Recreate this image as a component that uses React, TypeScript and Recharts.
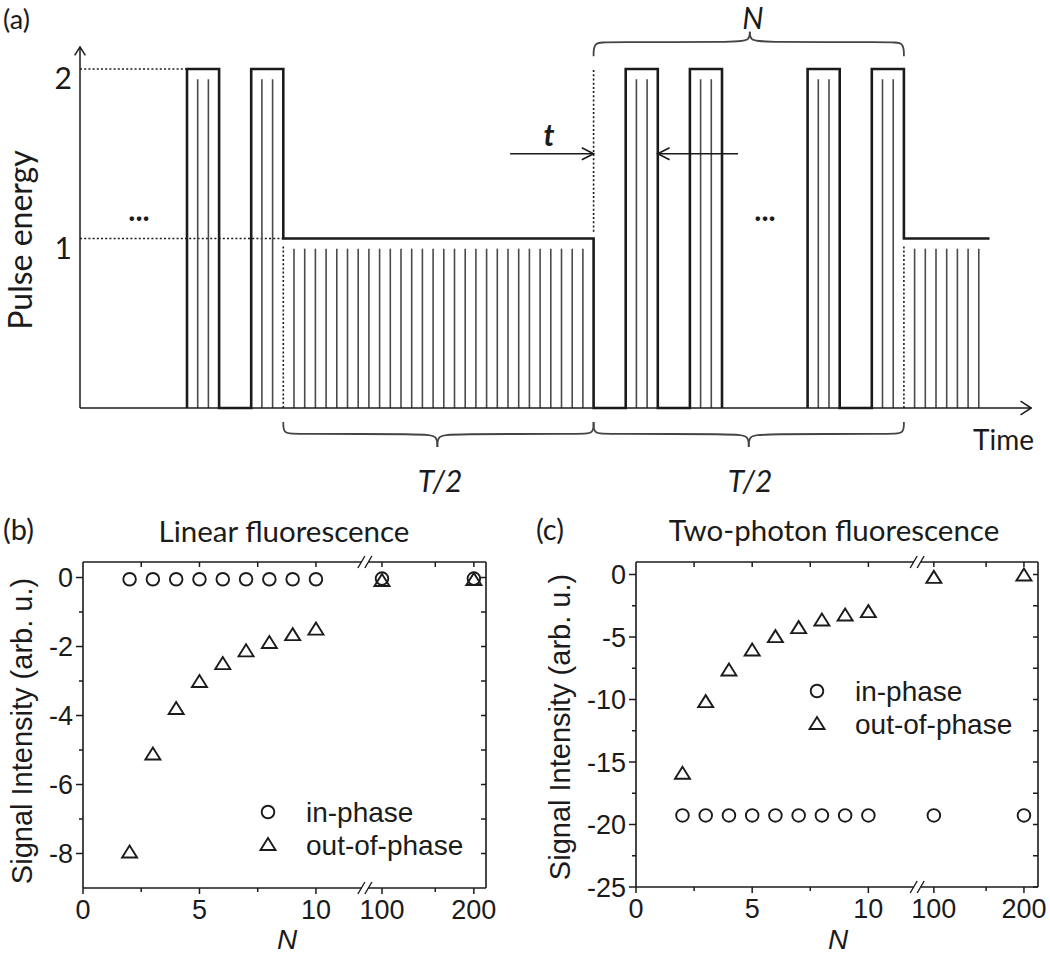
import React from 'react';
import {
  ComposedChart,
  Line,
  ReferenceLine,
  Scatter,
  ScatterChart,
  XAxis,
  YAxis,
} from 'recharts';

const INK = '#1b1b1b';
const PULSE = '#4a4a4a';
const LABEL_FONT = 'Lato, "Open Sans", sans-serif';
const PLOT_FONT = '"Liberation Sans", Arial, sans-serif';

// ---------- (a) pulse train, time in units of one pulse period ----------
const envelopeHeadT = [10, 10, 13, 13, 16, 16, 19, 19, 48, 48, 51, 51, 54, 54, 57, 57, 60, 60];
const envelopeHeadE = [0, 2, 2, 0, 0, 2, 2, 1, 1, 0, 0, 2, 2, 0, 0, 2, 2, 0];
const envelopeTailT = [68, 68, 71, 71, 74, 74, 77, 77, 85];
const envelopeTailE = [0, 2, 2, 0, 0, 2, 2, 1, 1];

const highPulseT = [11, 12, 17, 18, 52, 53, 58, 59, 69, 70, 75, 76];
const HIGH_PULSE_TOP = 1.94;
const lowPulseT = [
  20, 21, 22, 23, 24, 25, 26, 27, 28, 29, 30, 31, 32, 33, 34, 35, 36, 37, 38, 39, 40, 41, 42, 43,
  44, 45, 46, 47, 78, 79, 80, 81, 82, 83, 84,
];
const LOW_PULSE_TOP = 0.94;

// dotted guides: [t0, e0, t1, e1]
const guides = [
  [0, 2, 10, 2],
  [0, 1, 19, 1],
  [19, 0, 19, 0.96],
  [48, 1.04, 48, 2],
  [77, 0, 77, 0.96],
];

const yAxisT = [0, 0];
const yAxisE = [0, 2.13];
const yArrowT = [-0.5, 0, 0.5];
const yArrowE = [2.08, 2.13, 2.08];
const xAxisT = [0, 88.9];
const xAxisE = [0, 0];
const xArrowT = [87.9, 88.9, 87.9];
const xArrowE = [0.04, 0, -0.04];

const tInT = [40.2, 48];
const tInE = [1.5, 1.5];
const tInHeadT = [46.9, 48, 46.9];
const tOutT = [61.5, 54];
const tOutE = [1.5, 1.5];
const tOutHeadT = [55.1, 54, 55.1];
const headE = [1.535, 1.5, 1.465];

const braceTopE = [2.075, 2.158, 2.158, 2.158, 2.17, 2.22];
const braceBotE = [-0.083, -0.153, -0.153, -0.153, -0.165, -0.23];
const braceNLeftT = [48, 48, 49.2, 61.4, 62.6, 62.6];
const braceNRightT = [77, 77, 75.8, 63.8, 62.6, 62.6];
const braceHalf1LeftT = [19, 19, 20.2, 32.2, 33.4, 33.4];
const braceHalf1RightT = [48, 48, 46.8, 34.6, 33.4, 33.4];
const braceHalf2LeftT = [48, 48, 49.2, 61.3, 62.5, 62.5];
const braceHalf2RightT = [77, 77, 75.8, 63.7, 62.5, 62.5];

const energyTicks = [1, 2];

// ---------- (b), (c) fluorescence ----------
const nFew = [2, 3, 4, 5, 6, 7, 8, 9, 10];
const nMany = [100, 200];

const linInFew = [-0.05, -0.05, -0.05, -0.05, -0.05, -0.05, -0.05, -0.05, -0.05];
const linInMany = [-0.03, -0.03];
const linOutFew = [-7.97, -5.13, -3.81, -3.03, -2.51, -2.14, -1.9, -1.67, -1.51];
const linOutMany = [-0.1, -0.07];

const tpInFew = [-19.27, -19.27, -19.27, -19.27, -19.27, -19.27, -19.27, -19.27, -19.27];
const tpInMany = [-19.27, -19.27];
const tpOutFew = [-15.94, -10.21, -7.68, -6.08, -5.01, -4.29, -3.68, -3.28, -3.01];
const tpOutMany = [-0.27, -0.08];

const fewLabels = [0, 5, 10];
const fewMinor = [2.5, 7.5];
const manyLabels = [100, 200];
const manyMinor = [158];
const AXIS_BREAK = 12.1;

const linYMajor = [-8, -6, -4, -2, 0];
const linYMinor = [-7, -5, -3, -1];
const tpYMajor = [-25, -20, -15, -10, -5, 0];
const tpYMinor = [-22.5, -17.5, -12.5, -7.5, -2.5];

const zip = (ts: number[], es: number[]) => ts.map((t, i) => ({ t, e: es[i] }));
const pts = (ns: number[], vs: number[]) => ns.map((n, i) => ({ n, v: vs[i] }));

const EnergyTick = ({ x, y, payload }: any) => (
  <text x={x + 2.7} y={y + 20} textAnchor="end" fontFamily={LABEL_FONT} fontSize={30} fill={INK}>
    {payload.value}
  </text>
);

const strokeLine = (
  key: string,
  data: { t: number; e: number }[],
  width: number,
  color = INK,
  type: any = 'linear'
) => (
  <Line
    key={key}
    data={data}
    dataKey="e"
    type={type}
    stroke={color}
    strokeWidth={width}
    dot={false}
    activeDot={false}
    isAnimationActive={false}
  />
);

const PulsePanel = () => (
  <ComposedChart width={1050} height={500} margin={{ top: 1.2, right: 17.7, bottom: 7.25, left: 0 }}>
    <XAxis type="number" dataKey="t" domain={[-1, 89]} allowDataOverflow hide />
    <YAxis
      type="number"
      domain={[-0.5, 2.4]}
      allowDataOverflow
      ticks={energyTicks}
      interval={0}
      width={69.3}
      axisLine={false}
      tickLine={false}
      tickSize={0}
      tickMargin={0}
      tick={EnergyTick}
    />
    {guides.map(([t0, e0, t1, e1], i) => (
      <ReferenceLine
        key={`g${i}`}
        segment={[{ x: t0, y: e0 }, { x: t1, y: e1 }]}
        stroke={INK}
        strokeWidth={1.6}
        strokeDasharray="2 2.2"
        ifOverflow="visible"
      />
    ))}
    {lowPulseT.map((t) => (
      <ReferenceLine
        key={`l${t}`}
        segment={[{ x: t, y: 0 }, { x: t, y: LOW_PULSE_TOP }]}
        stroke={PULSE}
        strokeWidth={1.6}
        ifOverflow="visible"
      />
    ))}
    {highPulseT.map((t) => (
      <ReferenceLine
        key={`h${t}`}
        segment={[{ x: t, y: 0 }, { x: t, y: HIGH_PULSE_TOP }]}
        stroke={PULSE}
        strokeWidth={1.6}
        ifOverflow="visible"
      />
    ))}
    {strokeLine('ya', zip(yAxisT, yAxisE), 1.5)}
    {strokeLine('yh', zip(yArrowT, yArrowE), 1.5)}
    {strokeLine('xa', zip(xAxisT, xAxisE), 1.5)}
    {strokeLine('xh', zip(xArrowT, xArrowE), 1.5)}
    {strokeLine('eh', zip(envelopeHeadT, envelopeHeadE), 2.6)}
    {strokeLine('et', zip(envelopeTailT, envelopeTailE), 2.6)}
    {strokeLine('ti', zip(tInT, tInE), 1.6)}
    {strokeLine('tih', zip(tInHeadT, headE), 1.6)}
    {strokeLine('to', zip(tOutT, tOutE), 1.6)}
    {strokeLine('toh', zip(tOutHeadT, headE), 1.6)}
    {strokeLine('bn1', zip(braceNLeftT, braceTopE), 1.8, '#444', 'basis')}
    {strokeLine('bn2', zip(braceNRightT, braceTopE), 1.8, '#444', 'basis')}
    {strokeLine('b11', zip(braceHalf1LeftT, braceBotE), 1.8, '#444', 'basis')}
    {strokeLine('b12', zip(braceHalf1RightT, braceBotE), 1.8, '#444', 'basis')}
    {strokeLine('b21', zip(braceHalf2LeftT, braceBotE), 1.8, '#444', 'basis')}
    {strokeLine('b22', zip(braceHalf2RightT, braceBotE), 1.8, '#444', 'basis')}
  </ComposedChart>
);

const Circle = ({ cx, cy }: any) => (
  <circle cx={cx} cy={cy} r={6.3} fill="none" stroke={INK} strokeWidth={1.9} />
);
const Triangle = ({ cx, cy }: any) => (
  <polygon
    points={`${cx},${cy - 7} ${cx - 7.5},${cy + 5} ${cx + 7.5},${cy + 5}`}
    fill="none"
    stroke={INK}
    strokeWidth={1.9}
    strokeLinejoin="miter"
  />
);

const BreakMark = ({ x, y }: { x: number; y: number }) => (
  <g>
    <rect x={x - 3.5} y={y - 2} width={7} height={4} fill="#fff" />
    <line x1={x - 7} y1={y + 6} x2={x} y2={y - 6} stroke={INK} strokeWidth={1.4} />
    <line x1={x} y1={y + 6} x2={x + 7} y2={y - 6} stroke={INK} strokeWidth={1.4} />
  </g>
);

// axes are 1px thick boxes so that recharts draws them; `shift` puts the
// stacked second axis back onto the frame line
const bottomTick = (labels: number[], shift = 0) => (props: any) => {
  const { x, payload } = props;
  const y = props.y + shift;
  const v = payload.value;
  if (v === AXIS_BREAK) return <BreakMark x={x} y={y} />;
  const major = labels.includes(v);
  return (
    <g>
      <line x1={x} x2={x} y1={y} y2={y + (major ? 6 : 4)} stroke={INK} strokeWidth={1.5} />
      {major && (
        <text x={x} y={y + 31} textAnchor="middle" fontFamily={PLOT_FONT} fontSize={27} fill={INK}>
          {v}
        </text>
      )}
    </g>
  );
};

const topTick = (shift = 0) => (props: any) => {
  const { x, payload } = props;
  const y = props.y + shift;
  if (payload.value === AXIS_BREAK) return <BreakMark x={x} y={y} />;
  return <line x1={x} x2={x} y1={y} y2={y + 5} stroke={INK} strokeWidth={1.5} />;
};

const leftTick = (labels: number[]) => (props: any) => {
  const { x, y, payload } = props;
  const v = payload.value;
  const major = labels.includes(v);
  return (
    <g>
      <line x1={x - (major ? 7 : 4)} x2={x} y1={y} y2={y} stroke={INK} strokeWidth={1.5} />
      {major && (
        <text x={x - 10} y={y + 9.6} textAnchor="end" fontFamily={PLOT_FONT} fontSize={27} fill={INK}>
          {v}
        </text>
      )}
    </g>
  );
};

const rightTick = (props: any) => {
  const { x, y } = props;
  return <line x1={x - 5} x2={x} y1={y} y2={y} stroke={INK} strokeWidth={1.5} />;
};

const FEW_DOMAIN = [0, 17.3];
const frameLine = { stroke: INK, strokeWidth: 1.6 };

const FluorPanel = ({
  margin,
  yDomain,
  yMajor,
  yMinor,
  manyDomain,
  inFew,
  inMany,
  outFew,
  outMany,
}: any) => {
  const yTicks = [...yMajor, ...yMinor];
  const shared = {
    type: 'number' as const,
    dataKey: 'n',
    allowDataOverflow: true,
    interval: 0 as const,
    height: 1,
    tickSize: 0,
    tickMargin: 0,
  };
  const sharedY = {
    type: 'number' as const,
    dataKey: 'v',
    domain: yDomain,
    allowDataOverflow: true,
    ticks: yTicks,
    interval: 0 as const,
    width: 1,
    tickSize: 0,
    tickMargin: 0,
  };
  return (
    <ScatterChart width={525} height={456} margin={margin}>
      <XAxis
        {...shared}
        xAxisId="few"
        domain={FEW_DOMAIN}
        ticks={[...fewLabels, ...fewMinor, AXIS_BREAK]}
        axisLine={frameLine}
        tick={bottomTick(fewLabels)}
      />
      <XAxis
        {...shared}
        xAxisId="many"
        domain={manyDomain}
        ticks={[...manyLabels, ...manyMinor]}
        axisLine={false}
        tick={bottomTick(manyLabels, -1)}
      />
      <XAxis
        {...shared}
        xAxisId="fewTop"
        orientation="top"
        domain={FEW_DOMAIN}
        ticks={[...fewMinor, 5, 10, AXIS_BREAK]}
        axisLine={frameLine}
        tick={topTick()}
      />
      <XAxis
        {...shared}
        xAxisId="manyTop"
        orientation="top"
        domain={manyDomain}
        ticks={[...manyLabels, ...manyMinor]}
        axisLine={false}
        tick={topTick(1)}
      />
      <YAxis {...sharedY} yAxisId="v" axisLine={frameLine} tick={leftTick(yMajor)} />
      <YAxis {...sharedY} yAxisId="vr" orientation="right" axisLine={frameLine} tick={rightTick} />
      <Scatter xAxisId="few" yAxisId="v" data={pts(nFew, inFew)} shape={Circle} isAnimationActive={false} />
      <Scatter xAxisId="many" yAxisId="v" data={pts(nMany, inMany)} shape={Circle} isAnimationActive={false} />
      <Scatter xAxisId="few" yAxisId="v" data={pts(nFew, outFew)} shape={Triangle} isAnimationActive={false} />
      <Scatter xAxisId="many" yAxisId="v" data={pts(nMany, outMany)} shape={Triangle} isAnimationActive={false} />
    </ScatterChart>
  );
};

const LegendBlock = ({ x, y }: { x: number; y: number }) => (
  <g>
    <Circle cx={x} cy={y} />
    <text x={x + 38} y={y + 10} fontFamily={PLOT_FONT} fontSize={28} fill={INK}>
      in-phase
    </text>
    <Triangle cx={x} cy={y + 33} />
    <text x={x + 38} y={y + 43} fontFamily={PLOT_FONT} fontSize={28} fill={INK}>
      out-of-phase
    </text>
  </g>
);

const Overlay = () => (
  <svg
    width={1050}
    height={956}
    style={{ position: 'absolute', left: 0, top: 0, pointerEvents: 'none' }}
  >
    <g fontFamily={LABEL_FONT} fill={INK}>
      <text x={3} y={29} fontSize={27}>(a)</text>
      <text transform="translate(32,240) rotate(-90)" textAnchor="middle" fontSize={32}>
        Pulse energy
      </text>
      <text x={973} y={450} fontSize={28}>Time</text>
      <text x={549} y={146} textAnchor="middle" fontSize={30} fontStyle="italic" fontWeight="bold">
        t
      </text>
      <text x={753} y={29} textAnchor="middle" fontSize={30} fontStyle="italic">N</text>
      <text x={440} y={492} textAnchor="middle" fontSize={30} fontStyle="italic">T/2</text>
      <text x={750} y={492} textAnchor="middle" fontSize={30} fontStyle="italic">T/2</text>
      <text x={139} y={221} textAnchor="middle" fontSize={30} fontWeight="bold">...</text>
      <text x={765} y={221} textAnchor="middle" fontSize={30} fontWeight="bold">...</text>

      <text x={3} y={540} fontSize={29}>(b)</text>
      <text x={284} y={542} textAnchor="middle" fontSize={29.5}>Linear fluorescence</text>
      <text x={536} y={540} fontSize={29}>(c)</text>
      <text x={834} y={541} textAnchor="middle" fontSize={29.5}>Two-photon fluorescence</text>
    </g>
    <g fontFamily={PLOT_FONT} fill={INK}>
      <text transform="translate(32,731) rotate(-90)" textAnchor="middle" fontSize={29}>
        Signal Intensity (arb. u.)
      </text>
      <text transform="translate(570,727) rotate(-90)" textAnchor="middle" fontSize={29}>
        Signal Intensity (arb. u.)
      </text>
      <text x={287} y={949} textAnchor="middle" fontSize={28} fontStyle="italic">N</text>
      <text x={838} y={949} textAnchor="middle" fontSize={28} fontStyle="italic">N</text>
    </g>
    <LegendBlock x={268} y={812} />
    <LegendBlock x={817} y={691} />
  </svg>
);

export default function App() {
  return (
    <div
      style={{
        position: 'absolute',
        left: 0,
        top: 0,
        width: 1050,
        height: 956,
        background: '#fff',
        overflow: 'hidden',
      }}
    >
      <div style={{ position: 'absolute', left: 0, top: 0 }}>
        <PulsePanel />
      </div>
      <div style={{ position: 'absolute', left: 0, top: 500 }}>
        <FluorPanel
          margin={{ top: 60, right: 38, bottom: 66, left: 82 }}
          yDomain={[-9, 0.45]}
          yMajor={linYMajor}
          yMinor={linYMinor}
          manyDomain={[-225.4, 213.2]}
          inFew={linInFew}
          inMany={linInMany}
          outFew={linOutFew}
          outMany={linOutMany}
        />
      </div>
      <div style={{ position: 'absolute', left: 525, top: 500 }}>
        <FluorPanel
          margin={{ top: 60, right: 11, bottom: 67, left: 110 }}
          yDomain={[-25, 1]}
          yMajor={tpYMajor}
          yMinor={tpYMinor}
          manyDomain={[-230.6, 215.6]}
          inFew={tpInFew}
          inMany={tpInMany}
          outFew={tpOutFew}
          outMany={tpOutMany}
        />
      </div>
      <Overlay />
    </div>
  );
}
